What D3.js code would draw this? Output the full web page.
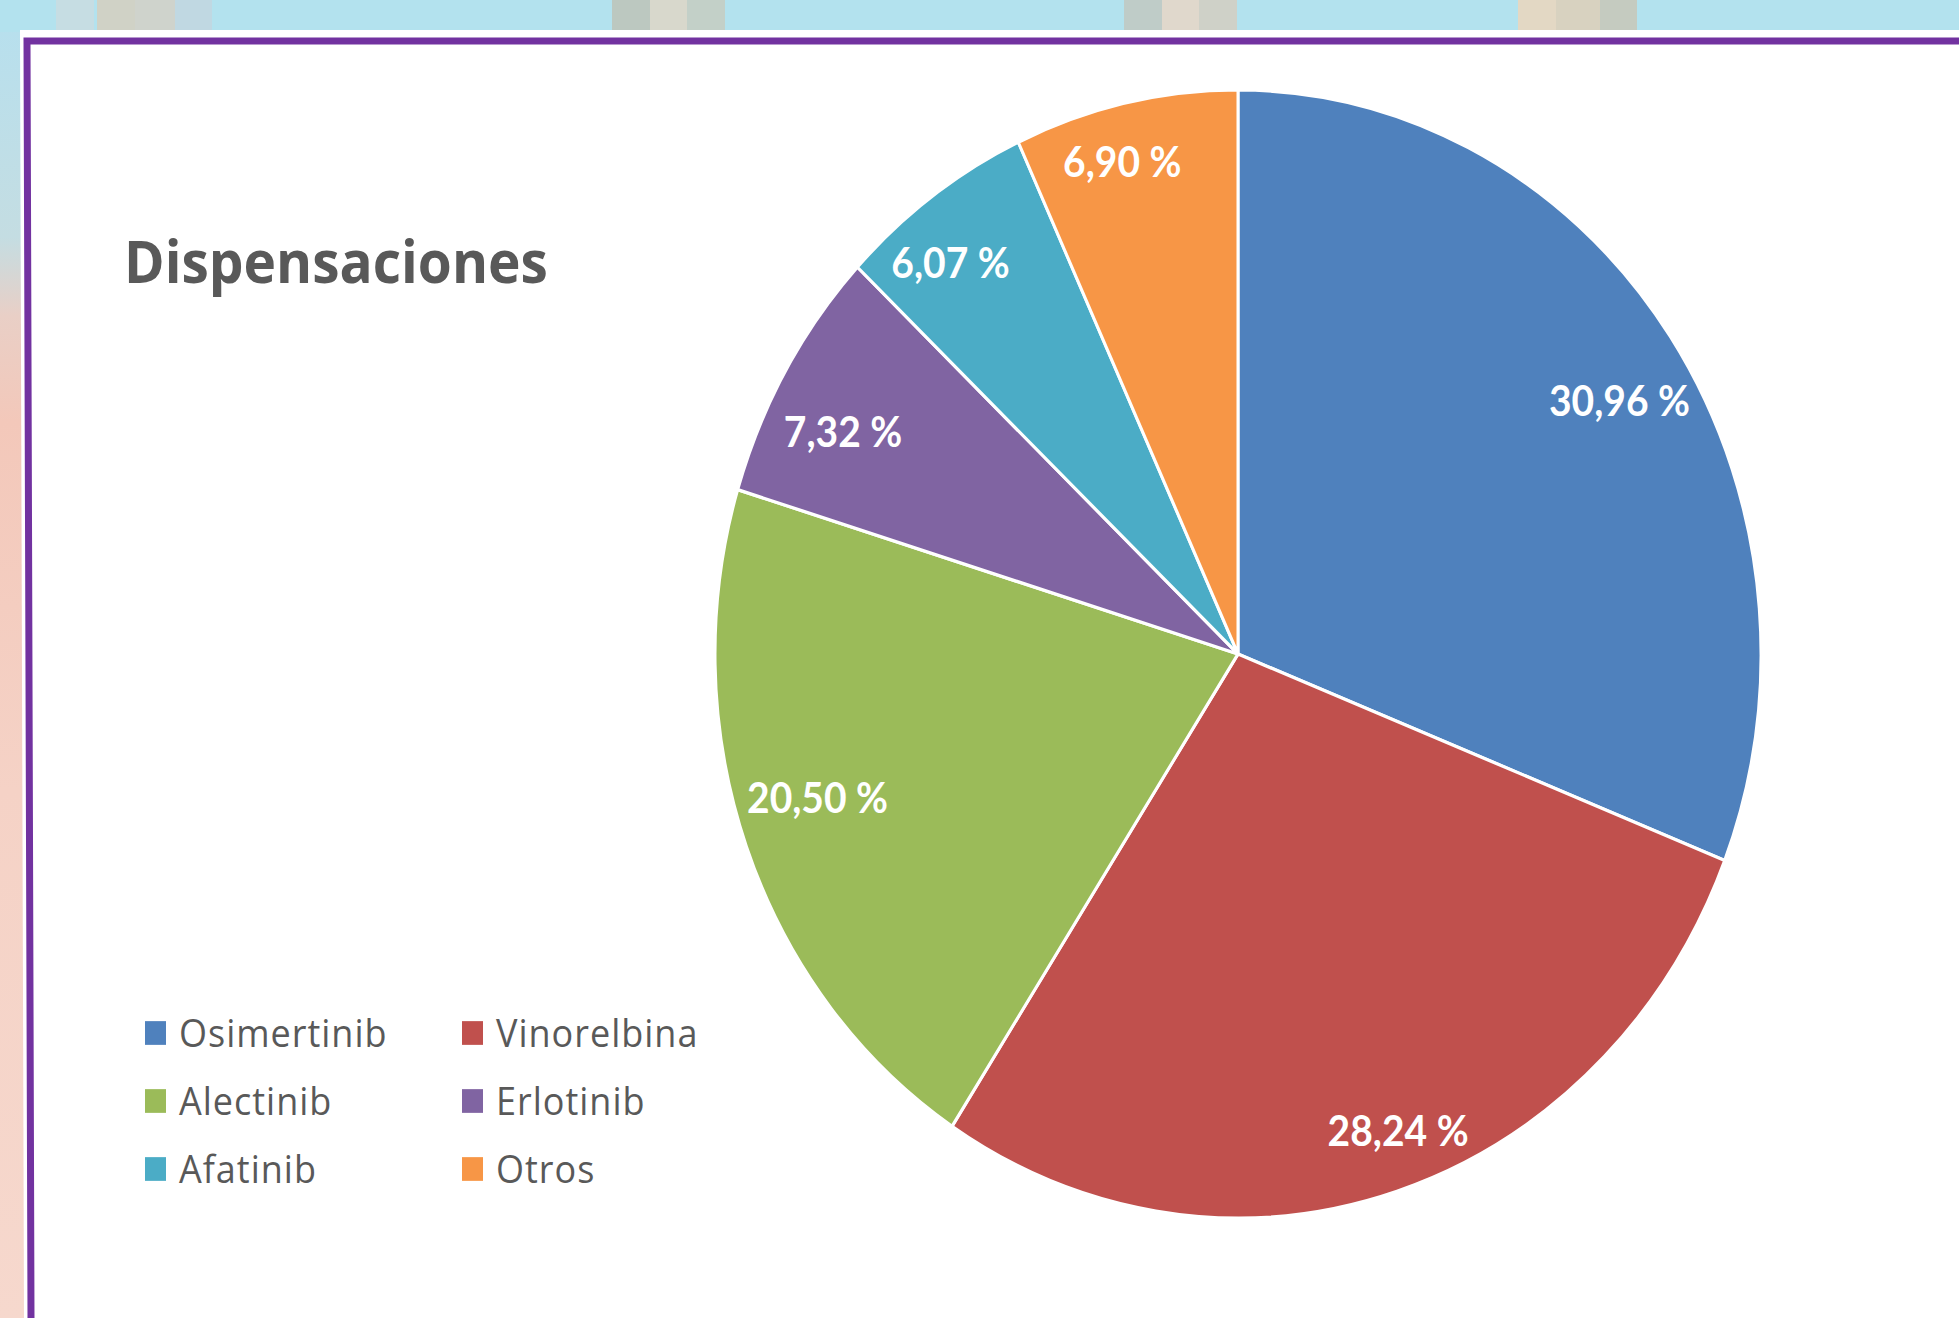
<!DOCTYPE html>
<html>
<head>
<meta charset="utf-8">
<script src="https://cdn.jsdelivr.net/npm/d3@7"></script>
<style>
  html, body { margin: 0; padding: 0; overflow: hidden; background: #fff; }
  svg { display: block; }
</style>
</head>
<body>
<svg id="chart" width="1959" height="1318"></svg>
<script>
// ---- data ----
const categories = ["Osimertinib", "Vinorelbina", "Alectinib", "Erlotinib", "Afatinib", "Otros"];
const values = [30.96, 28.24, 20.50, 7.32, 6.07, 6.90];
const colors = ["#4f81bd", "#c0504d", "#9bbb59", "#8064a2", "#4bacc6", "#f79646"];
const title = "Dispensaciones";

// ---- layout ----
const W = 1959, H = 1318;
const SY = 564 / 523;          // vertical stretch of the picture
const cx = 1238, cy = 654 / SY, R = 523;

const svg = d3.select("#chart");

// background mosaic (screen coords)
const defs = svg.append("defs");
const lg = defs.append("linearGradient").attr("id", "leftStrip")
  .attr("x1", 0).attr("y1", 0).attr("x2", 0).attr("y2", 1);
[[0, "#b6e0ef"], [0.18, "#c4dde2"], [0.24, "#e9cfc6"], [0.32, "#f3c8ba"], [0.6, "#f5d2c6"], [1, "#f6d8cd"]]
  .forEach(([o, c]) => lg.append("stop").attr("offset", o).attr("stop-color", c));
svg.append("rect").attr("width", W).attr("height", H).attr("fill", "url(#leftStrip)");
svg.append("rect").attr("width", W).attr("height", 32).attr("fill", "#b3e2ee");
const topBlocks = [
  [56, 38, "#c6dde3"], [97, 38, "#d0d2c6"], [135, 40, "#cfd3cc"], [175, 37, "#c0d8e2"],
  [612, 38, "#bcc8c0"], [650, 37, "#d8d8cc"], [687, 38, "#c3d0c8"],
  [1124, 38, "#bfccc8"], [1162, 37, "#e0d8cc"], [1199, 38, "#cfd1c8"],
  [1518, 38, "#e3d8c4"], [1556, 44, "#d8d2c0"], [1600, 37, "#c5cbc0"]
];
svg.append("g").selectAll("rect").data(topBlocks).join("rect")
  .attr("x", d => d[0]).attr("y", 0).attr("width", d => d[1]).attr("height", 30)
  .attr("fill", d => d[2]);

// white panel and purple frame
svg.append("polygon").attr("points", `20,30 ${W},30 ${W},${H} 24,${H}`).attr("fill", "#ffffff");
svg.append("polyline").attr("points", `${W},41 27,41 31,${H}`)
  .attr("fill", "none").attr("stroke", "#7232a0").attr("stroke-width", 7);

// chart group with vertical stretch
const g = svg.append("g").attr("transform", `scale(1,${SY})`);

// title
g.append("text")
  .attr("x", 124).attr("y", 283 / SY)
  .attr("font-family", "'Open Sans', sans-serif").attr("font-weight", 700)
  .attr("font-size", 55).attr("fill", "#595959")
  .text(title);

// pie
const pie = d3.pie().sort(null).value(d => d);
const arcs = pie(values);
const arc = d3.arc().innerRadius(0).outerRadius(R);
const pg = g.append("g").attr("transform", `translate(${cx},${cy})`);
pg.selectAll("path").data(arcs).join("path")
  .attr("d", arc)
  .attr("fill", (d, i) => colors[i])
  .attr("stroke", "#ffffff").attr("stroke-width", 3).attr("stroke-linejoin", "round");

// data labels (inside end, box pushed toward the rim)
const fmt = v => d3.format(".2f")(v).replace(".", ",") + " %";
const lfs = 39, cap = lfs * 0.72;
pg.selectAll("text.lbl").data(arcs).join("text")
  .attr("class", "lbl")
  .attr("font-family", "Lato, sans-serif").attr("font-weight", 700)
  .attr("font-size", lfs).attr("fill", "#ffffff")
  .attr("text-anchor", "middle")
  .text(d => fmt(d.data))
  .each(function(d) {
    const a = (d.startAngle + d.endAngle) / 2;
    const sx = Math.sin(a), syv = -Math.cos(a);
    const x = sx * R * (1.08 - 0.239 * Math.abs(sx));
    const y = syv * R * (0.669 + 0.229 * Math.abs(syv));
    d3.select(this).attr("x", x).attr("y", y + cap / 2);
  });

// legend
const legFs = 36;
const colX = [145, 462];
const rowY = [1033, 1101, 1169];   // screen y of item centers
const leg = g.append("g");
const items = leg.selectAll("g").data(categories).join("g")
  .attr("transform", (d, i) => `translate(${colX[i % 2]},${rowY[Math.floor(i / 2)] / SY})`);
items.append("rect")
  .attr("x", 0).attr("y", -11).attr("width", 21).attr("height", 22)
  .attr("fill", (d, i) => colors[i]);
items.append("text")
  .attr("x", 34).attr("y", legFs * 0.714 / 2)
  .attr("font-family", "'Open Sans', sans-serif").attr("font-weight", 400)
  .attr("letter-spacing", 1)
  .attr("font-size", legFs).attr("fill", "#595959")
  .text(d => d);
</script>
</body>
</html>
